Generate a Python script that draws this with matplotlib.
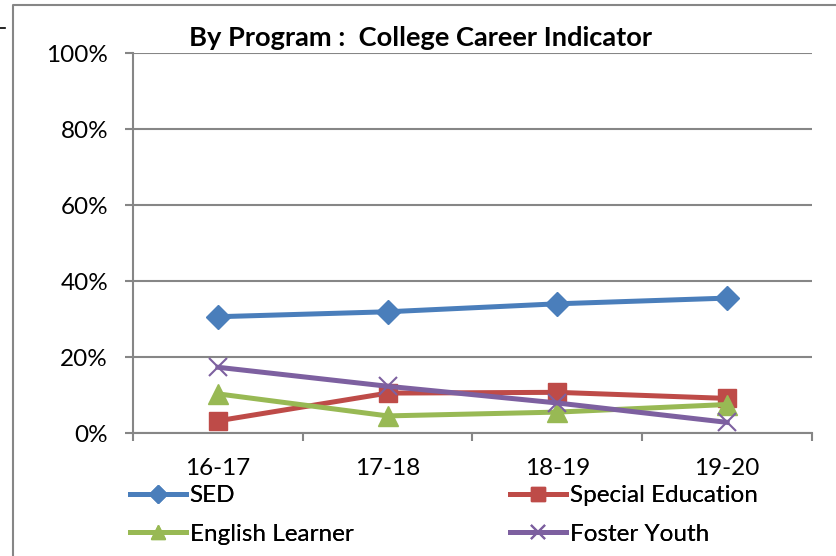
import matplotlib.pyplot as plt
from matplotlib.lines import Line2D

# -----------------------------
# Data
# -----------------------------
years = ["16-17", "17-18", "18-19", "19-20"]
sed = [30.6, 31.9, 34.0, 35.5]
special_ed = [3.2, 10.5, 10.7, 9.1]
english_learner = [10.3, 4.5, 5.5, 7.5]
foster_youth = [17.3, 12.3, 7.9, 2.8]

plt.rcParams["font.family"] = ["Lato", "DejaVu Sans"]

W, H = 837, 556
fig = plt.figure(figsize=(W / 100, H / 100), dpi=100)
ax = fig.add_axes([133 / W, 1 - 433 / H, (812 - 133) / W, (433 - 53) / H])

# outer chart frame (only top and left edges are inside the picture)
frame_x = [1.0, 13 / W, 13 / W]
frame_y = [1 - 5 / H, 1 - 5 / H, 0.0]
fig.lines.append(Line2D(frame_x, frame_y, transform=fig.transFigure,
                        color="#868686", linewidth=1.5))
fig.lines.append(Line2D([0, 5 / W], [1 - 28 / H, 1 - 28 / H],
                        transform=fig.transFigure, color="black", linewidth=1.2))

x = list(range(len(years)))
series = [
    ("SED", sed, "#4A7EBB", "D", 12),
    ("Special Education", special_ed, "#BE4B48", "s", 13.5),
    ("English Learner", english_learner, "#98B954", "^", 14),
    ("Foster Youth", foster_youth, "#7D60A0", "x", 13),
]
lines = {}
for label, vals, color, marker, ms in series:
    ln, = ax.plot(x, vals, color=color, linewidth=3.6, marker=marker, markersize=ms,
                  markeredgewidth=1.5 if marker == "x" else 1, markeredgecolor=color,
                  label=label, clip_on=False, zorder=3)
    lines[label] = ln

ax.set_xlim(-0.5, 3.5)
ax.set_ylim(0, 100)
ax.set_yticks(range(0, 101, 20))
ax.set_yticklabels([f"{v}%" for v in range(0, 101, 20)], fontsize=17.5)
ax.set_xticks(x)
ax.set_xticklabels(years, fontsize=17.5)
ax.set_xticks([-0.5, 0.5, 1.5, 2.5, 3.5], minor=True)
ax.tick_params(axis="x", which="major", length=0, pad=18)
ax.tick_params(axis="x", which="minor", length=6, width=1.5, color="#868686")
ax.tick_params(axis="y", length=6, width=1.5, color="#868686", pad=12)

ax.grid(axis="y", color="#868686", linewidth=1.5)
ax.set_axisbelow(True)
for side in ["top", "right"]:
    ax.spines[side].set_visible(False)
for side in ["left", "bottom"]:
    ax.spines[side].set_color("#868686")
    ax.spines[side].set_linewidth(1.5)

fig.text(421 / W, 1 - 38 / H, "By Program :  College Career Indicator",
         ha="center", va="center", fontsize=19.6, fontweight="bold")

# legend: two columns, filled row by row
for keys, x0 in [(["SED", "English Learner"], 130),
                 (["Special Education", "Foster Youth"], 510)]:
    leg = fig.legend([lines[k] for k in keys], keys, loc="upper left",
                     bbox_to_anchor=(x0 / W, 1 - 485 / H), frameon=False,
                     fontsize=17.5, handlelength=2.3, handletextpad=0.15,
                     markerscale=0.75, labelspacing=0.72, borderaxespad=0,
                     borderpad=0)
    fig.add_artist(leg)

fig.savefig("out.png", dpi=100)
